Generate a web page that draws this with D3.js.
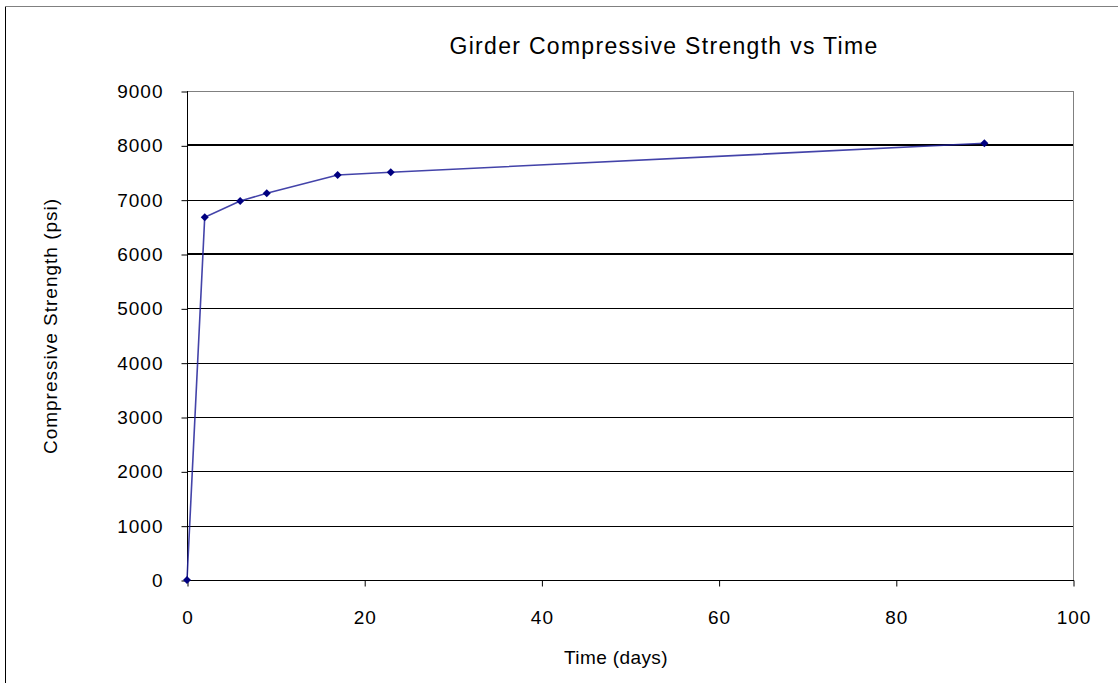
<!DOCTYPE html>
<html><head><meta charset="utf-8">
<script src="https://cdn.jsdelivr.net/npm/d3@7"></script>
<style>
html,body{margin:0;padding:0;background:#fff;}
svg{display:block;}
text{font-family:"Liberation Sans",Arial,sans-serif;fill:#000;}
</style></head>
<body>
<svg id="c" width="1118" height="683"></svg>
<script>
const days = [0, 2, 6, 9, 17, 23, 90];
const strength = [0, 6676, 6976, 7117, 7454, 7504, 8037];
const xTicks = [0, 20, 40, 60, 80, 100];
const yTicks = [0, 1000, 2000, 3000, 4000, 5000, 6000, 7000, 8000, 9000];
const boldGrid = [6000, 8000];
const title = "Girder Compressive Strength vs Time";
const xTitle = "Time (days)";
const yTitle = "Compressive Strength (psi)";

const svg = d3.select("#c");
const L = 187, R = 1073, T = 91, B = 580;
const x = d3.scaleLinear().domain([0, 100]).range([L, R]);
const y = d3.scaleLinear().domain([0, 9000]).range([B, T]);

// outer chart border
svg.append("line").attr("x1", 5.5).attr("x2", 5.5).attr("y1", 6).attr("y2", 683).attr("stroke", "#000").attr("stroke-width", 1);
svg.append("line").attr("x1", 5).attr("x2", 1118).attr("y1", 6.5).attr("y2", 6.5).attr("stroke", "#808080").attr("stroke-width", 1);

// gridlines
svg.append("g").selectAll("line").data(yTicks.filter(v => v > 0 && v < 9000)).join("line")
  .attr("x1", L).attr("x2", R)
  .attr("y1", d => Math.round(y(d)) + (boldGrid.includes(d) ? 0 : 0.5))
  .attr("y2", d => Math.round(y(d)) + (boldGrid.includes(d) ? 0 : 0.5))
  .attr("stroke", "#000").attr("stroke-width", d => boldGrid.includes(d) ? 2 : 1);

// plot border top/right (gray)
svg.append("line").attr("x1", L).attr("x2", R + 0.5).attr("y1", T + 0.5).attr("y2", T + 0.5).attr("stroke", "#808080");
svg.append("line").attr("x1", R + 0.5).attr("x2", R + 0.5).attr("y1", T).attr("y2", B).attr("stroke", "#808080");

// axes
const yAxis = d3.axisLeft(y).tickValues(yTicks).tickSize(6).tickPadding(18).tickFormat(d3.format("d"));
const gy = svg.append("g").attr("transform", `translate(${L + 0.5},0.5)`).call(yAxis);
const xAxis = d3.axisBottom(x).tickValues(xTicks).tickSize(6).tickPadding(24).tickFormat(d3.format("d"));
const gx = svg.append("g").attr("transform", `translate(0.5,${B + 0.5})`).call(xAxis);
[gx, gy].forEach(g => {
  g.selectAll(".tick line").attr("stroke", "#000");
  g.selectAll(".tick text").attr("font-size", 19).attr("letter-spacing", "1px")
    .attr("font-family", '"Liberation Sans",Arial,sans-serif').attr("fill", "#000");
  g.select(".domain").remove();
});
svg.append("line").attr("x1", L + 0.5).attr("x2", L + 0.5).attr("y1", T).attr("y2", B + 1).attr("stroke", "#000");
svg.append("line").attr("x1", L).attr("x2", R + 1).attr("y1", B + 0.5).attr("y2", B + 0.5).attr("stroke", "#000");

// series line
const line = d3.line().x((d, i) => x(days[i])).y(d => y(d));
svg.append("path").datum(strength).attr("d", line)
  .attr("fill", "none").attr("stroke", "#22229a").attr("stroke-width", 1.6).attr("stroke-opacity", 0.85);

// markers (diamonds)
const sym = d3.symbol().type(d3.symbolSquare).size(32);
svg.append("g").selectAll("path").data(strength).join("path")
  .attr("transform", (d, i) => `translate(${x(days[i])},${y(d)}) rotate(45)`)
  .attr("d", sym).attr("fill", "#000080");

// titles
svg.append("text").attr("x", 664).attr("y", 54).attr("text-anchor", "middle")
  .attr("font-size", 23).attr("letter-spacing", "1.3px").text(title);
svg.append("text").attr("x", 616).attr("y", 664).attr("text-anchor", "middle")
  .attr("font-size", 19).attr("letter-spacing", "0.4px").text(xTitle);
svg.append("text").attr("transform", "translate(57,326) rotate(-90)").attr("text-anchor", "middle")
  .attr("font-size", 19).attr("letter-spacing", "1px").text(yTitle);
</script>
</body></html>
